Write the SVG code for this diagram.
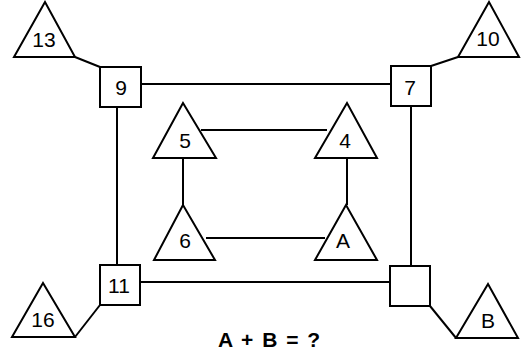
<svg xmlns="http://www.w3.org/2000/svg" width="521" height="356" viewBox="0 0 521 356">
<style>
.s{fill:#fff;stroke:#000;stroke-width:2;stroke-linejoin:miter}
.l{stroke:#000;stroke-width:2;fill:none}
.t{font-family:"Liberation Sans",Arial,sans-serif;font-size:21px;text-anchor:middle;fill:#000}
.q{font-family:"Liberation Sans",Arial,sans-serif;font-size:21px;font-weight:bold;text-anchor:middle;fill:#000;word-spacing:3px}
</style>
<rect width="521" height="356" fill="#fff"/>
<g id="connectors">
<line class="l" x1="75" y1="57" x2="100" y2="67"/>
<line class="l" x1="141" y1="84" x2="391" y2="84"/>
<line class="l" x1="431" y1="66" x2="458" y2="57"/>
<line class="l" x1="117" y1="107" x2="117" y2="265"/>
<line class="l" x1="411" y1="106" x2="411" y2="266"/>
<line class="l" x1="140" y1="282" x2="390" y2="282"/>
<line class="l" x1="100" y1="305" x2="75" y2="337"/>
<line class="l" x1="430" y1="306" x2="456" y2="338"/>
<line class="l" x1="201" y1="130" x2="327" y2="130"/>
<line class="l" x1="206" y1="238" x2="325" y2="238"/>
<line class="l" x1="183" y1="158" x2="183" y2="205"/>
<line class="l" x1="347" y1="158" x2="347" y2="205"/>
</g>
<g id="n13"><polygon class="s" points="45,2 14,57 75,57"/><text class="t" x="44" y="47">13</text></g>
<g id="n10"><polygon class="s" points="489,2 458,57 519,57"/><text class="t" x="488" y="46">10</text></g>
<g id="n16"><polygon class="s" points="43,283 12,337 75,337"/><text class="t" x="43" y="327">16</text></g>
<g id="nB"><polygon class="s" points="488,284 456,338 518,338"/><text class="t" x="488" y="328">B</text></g>
<g id="n9"><rect class="s" x="100" y="67" width="41" height="40"/><text class="t" x="121" y="95">9</text></g>
<g id="n7"><rect class="s" x="391" y="66" width="40" height="40"/><text class="t" x="410" y="95">7</text></g>
<g id="n11"><rect class="s" x="100" y="265" width="40" height="40"/><text class="t" x="119" y="293">11</text></g>
<g id="nX"><rect class="s" x="390" y="266" width="40" height="40"/></g>
<g id="n5"><polygon class="s" points="183,103 153,158 216,158"/><text class="t" x="185" y="148">5</text></g>
<g id="n4"><polygon class="s" points="347,103 315,158 377,158"/><text class="t" x="345" y="148">4</text></g>
<g id="n6"><polygon class="s" points="183,205 154,260 215,260"/><text class="t" x="185" y="248">6</text></g>
<g id="nA"><polygon class="s" points="346,205 315,260 377,260"/><text class="t" x="343" y="248">A</text></g>
<text class="q" x="269" y="347">A + B = ?</text>
</svg>
